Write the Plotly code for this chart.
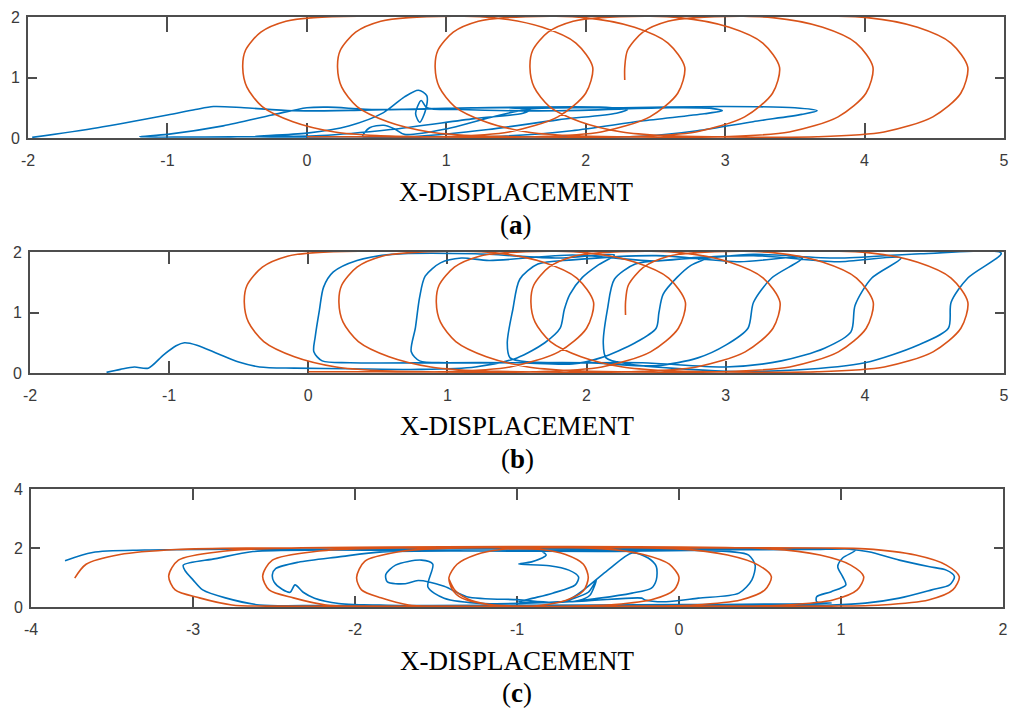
import plotly.graph_objects as go

# ---------------- data ----------------
# reference trajectory used in panels (a) and (b)
REF_AB_X = [2.28, 2.28, 2.30, 2.41, 2.59, 2.79,
            4.02, 4.38, 4.62, 4.74, 4.69, 4.49, 4.14, 3.66,
            2.91, 2.56, 2.26, 1.96, 1.74, 1.63, 1.60, 1.62, 1.73, 1.91, 2.11,
            3.34, 3.70, 3.94, 4.06, 4.01, 3.81, 3.46, 2.98,
            2.23, 1.88, 1.58, 1.28, 1.06, 0.95, 0.92, 0.94, 1.05, 1.23, 1.43,
            2.67, 3.03, 3.27, 3.39, 3.34, 3.14, 2.79, 2.31,
            1.53, 1.18, 0.88, 0.58, 0.36, 0.25, 0.22, 0.24, 0.35, 0.53, 0.73,
            1.99, 2.35, 2.59, 2.71, 2.66, 2.46, 2.11, 1.63,
            0.85, 0.50, 0.20, -0.10, -0.32, -0.43, -0.46, -0.44, -0.33, -0.15, 0.05,
            1.33, 1.69, 1.93, 2.05, 2.00, 1.80, 1.45, 0.97,
            0.50, 0.00]
REF_AB_Y = [0.96, 1.17, 1.45, 1.75, 1.93, 1.99,
            1.99, 1.83, 1.57, 1.17, 0.74, 0.35, 0.10, 0.02,
            0.02, 0.04, 0.10, 0.27, 0.52, 0.84, 1.17, 1.45, 1.75, 1.93, 1.99,
            1.99, 1.83, 1.57, 1.17, 0.74, 0.35, 0.10, 0.02,
            0.02, 0.04, 0.10, 0.27, 0.52, 0.84, 1.17, 1.45, 1.75, 1.93, 1.99,
            1.99, 1.83, 1.57, 1.17, 0.74, 0.35, 0.10, 0.02,
            0.02, 0.04, 0.10, 0.27, 0.52, 0.84, 1.17, 1.45, 1.75, 1.93, 1.99,
            1.99, 1.83, 1.57, 1.17, 0.74, 0.35, 0.10, 0.02,
            0.02, 0.04, 0.10, 0.27, 0.52, 0.84, 1.17, 1.45, 1.75, 1.93, 1.99,
            1.99, 1.83, 1.57, 1.17, 0.74, 0.35, 0.10, 0.02,
            0.02, 0.02]

# actual trajectory, panel (a)
ACT_A_X = [-1.97, -1.5, -1.0, -0.8, -0.67, -0.45, -0.1, 0.4, 1.0, 1.45, 1.6, 1.55, 1.2, 0.6, 0.1, -0.5, -1.2,
           -1.0, -0.6, -0.25, 0.0, 0.15, 0.5, 1.2, 2.1, 2.3, 2.22, 1.8, 1.3, 0.8, 0.2, -0.4,
           0.0, 0.3, 0.55, 0.7, 0.8, 0.86, 0.85, 0.81, 0.78, 0.82, 0.86, 1.1, 1.8, 2.6, 2.9, 2.98, 2.85,
           2.4, 1.9, 1.4, 0.9, 0.4,
           0.45, 0.55, 0.63, 0.7, 1.0, 1.3, 1.6, 2.2, 3.0, 3.5, 3.66, 3.55, 3.2, 2.8, 2.4, 1.8, 1.2]
ACT_A_Y = [0.01, 0.17, 0.38, 0.47, 0.52, 0.5, 0.45, 0.46, 0.49, 0.5, 0.47, 0.41, 0.32, 0.14, 0.04, 0.02, 0.02,
           0.06, 0.2, 0.38, 0.5, 0.51, 0.47, 0.5, 0.51, 0.47, 0.41, 0.3, 0.14, 0.03, 0.02, 0.02,
           0.08, 0.2, 0.42, 0.68, 0.79, 0.7, 0.45, 0.26, 0.4, 0.62, 0.5, 0.47, 0.45, 0.5, 0.49, 0.45, 0.4,
           0.28, 0.12, 0.03, 0.02, 0.02,
           0.17, 0.21, 0.15, 0.06, 0.15, 0.33, 0.48, 0.5, 0.52, 0.5, 0.45, 0.39, 0.27, 0.12, 0.03, 0.02, 0.02]

# actual trajectory, panel (b)
ACT_B_X = [-1.45, -1.35, -1.25, -1.15, -1.04, -0.95, -0.89, -0.8, -0.65, -0.5, -0.35, -0.1, 0.3, 0.8, 1.2,
           1.5, 1.7, 1.81, 1.84, 1.88, 1.97, 2.08, 2.2, 1.8, 1.2, 0.6, 0.35, 0.18, 0.11, 0.08, 0.05, 0.04,
           0.1, 0.3, 1.0, 1.5, 1.9, 2.1, 2.35, 2.5, 2.52, 2.55, 2.65, 2.75, 2.88,
           2.5, 1.9, 1.3, 1.1, 0.95, 0.84, 0.8, 0.77, 0.74, 0.8, 1.0, 2.0, 2.5, 2.8, 3.0, 3.16, 3.2, 3.33, 3.55,
           3.1, 2.5, 1.9, 1.65, 1.52, 1.47, 1.43, 1.45, 1.6, 2.4, 3.0, 3.4, 3.71, 3.9, 3.93, 4.05, 4.26,
           3.8, 3.2, 2.6, 2.35, 2.2, 2.15, 2.12, 2.14, 2.3, 3.0, 3.5, 4.0, 4.38, 4.6, 4.62, 4.74, 4.98,
           4.4, 3.8, 3.2, 2.8]
ACT_B_Y = [0.01, 0.06, 0.1, 0.08, 0.3, 0.45, 0.5, 0.46, 0.32, 0.18, 0.1, 0.08, 0.07, 0.06, 0.1,
           0.25, 0.5, 0.74, 1.05, 1.3, 1.58, 1.78, 1.95, 1.9, 1.97, 1.96, 1.86, 1.67, 1.42, 1.04, 0.6, 0.35,
           0.2, 0.17, 0.17, 0.17, 0.15, 0.25, 0.5, 0.74, 1.0, 1.3, 1.58, 1.78, 1.92,
           1.85, 1.95, 1.86, 1.9, 1.82, 1.6, 1.25, 0.75, 0.35, 0.2, 0.17, 0.17, 0.12, 0.25, 0.46, 0.74, 1.17, 1.57, 1.9,
           1.84, 1.94, 1.87, 1.8, 1.55, 1.05, 0.5, 0.25, 0.18, 0.17, 0.1, 0.2, 0.41, 0.68, 1.12, 1.57, 1.9,
           1.84, 1.94, 1.87, 1.8, 1.55, 1.05, 0.5, 0.25, 0.15, 0.03, 0.05, 0.17, 0.46, 0.74, 1.17, 1.57, 1.98,
           1.97, 1.9, 1.96, 1.88]

# reference trajectory, panel (c)
REF_C_X = [-3.73, -3.66, -3.45, -3.10, -2.60,
           0.90, 1.15, 1.46, 1.65, 1.73, 1.69, 1.54, 1.25, 0.94,
           -2.55, -2.76, -2.96, -3.11, -3.15, -3.09, -2.80, -2.55,
           0.56, 0.87, 1.06, 1.14, 1.10, 0.95, 0.66, 0.35,
           -1.97, -2.18, -2.38, -2.53, -2.57, -2.51, -2.22, -1.97,
           -0.01, 0.30, 0.49, 0.57, 0.53, 0.38, 0.09, -0.22,
           -1.50, -1.67, -1.84, -1.96, -1.99, -1.94, -1.72, -1.50,
           -0.48, -0.22, -0.06, 0.00, -0.03, -0.16, -0.40, -0.65,
           -1.00, -1.20, -1.34, -1.40, -1.42, -1.37, -1.25, -1.10, -0.99, -0.85, -0.70, -0.59, -0.56,
           -0.59, -0.70, -0.85, -0.99, -1.13, -1.28, -1.38, -1.42]
REF_C_Y = [0.98, 1.45, 1.78, 1.95, 2.00,
           2.00, 1.97, 1.76, 1.42, 1.03, 0.58, 0.24, 0.07, 0.03,
           0.03, 0.07, 0.31, 0.58, 1.05, 1.59, 1.90, 1.98,
           1.97, 1.76, 1.42, 1.03, 0.58, 0.24, 0.07, 0.03,
           0.03, 0.07, 0.31, 0.58, 1.05, 1.59, 1.90, 1.98,
           1.97, 1.76, 1.42, 1.03, 0.58, 0.24, 0.07, 0.03,
           0.03, 0.07, 0.31, 0.58, 1.00, 1.55, 1.88, 1.98,
           1.98, 1.78, 1.45, 1.00, 0.58, 0.26, 0.08, 0.03,
           0.03, 0.10, 0.30, 0.60, 1.00, 1.45, 1.78, 1.95, 1.98, 1.95, 1.78, 1.45, 1.00,
           0.55, 0.22, 0.06, 0.03, 0.06, 0.22, 0.55, 0.95]

# actual trajectory, panel (c)
ACT_C_X = [-3.79, -3.62, -3.3, -2.6, -1.5, -0.3, 0.6, 1.05, 1.17, 1.36, 1.54, 1.65, 1.70, 1.67, 1.56, 1.36,
           1.15, 0.94, 0.5, -0.5, -1.5, -2.2, -2.59, -2.8, -2.94, -3.0, -3.05, -3.06, -2.86, -2.63,
           -2.2, -1.2, 0.0, 0.8, 1.09, 1.01, 0.98, 1.01, 1.03, 0.94, 0.85, 0.85, 0.94, 0.6, 0.0, -1.0, -1.8,
           -2.1, -2.25, -2.32, -2.37, -2.40, -2.45, -2.50, -2.51, -2.49, -2.35, -2.1, -1.83,
           -1.2, -0.5, 0.1, 0.33, 0.43, 0.47, 0.45, 0.37, 0.12, -0.08, -0.21, -0.23,
           -0.6, -1.2, -1.45, -1.55, -1.52, -1.59, -1.75, -1.81, -1.80, -1.69, -1.61, -1.45,
           -1.31, -1.0, -0.7, -0.45, -0.29, -0.19, -0.14, -0.14, -0.17, -0.29, -0.49, -0.7,
           -0.56, -0.51, -0.55, -0.62, -0.78, -0.99, -0.9, -0.78, -0.64, -0.62, -0.68, -0.8, -0.99,
           -0.91, -0.82, -0.85]
ACT_C_Y = [1.57, 1.85, 1.93, 1.96, 1.97, 1.97, 1.98, 1.96, 1.87, 1.59, 1.37, 1.25, 1.03, 0.75, 0.58, 0.30,
           0.13, 0.07, 0.05, 0.05, 0.04, 0.05, 0.07, 0.31, 0.58, 0.92, 1.24, 1.42, 1.64, 1.88,
           1.93, 1.9, 1.93, 1.95, 1.93, 1.66, 1.37, 1.03, 0.75, 0.52, 0.35, 0.18, 0.13, 0.1, 0.08, 0.06, 0.06,
           0.12, 0.3, 0.5, 0.75, 0.5, 0.6, 0.85, 1.1, 1.3, 1.52, 1.7, 1.87,
           1.9, 1.88, 1.92, 1.87, 1.76, 1.42, 0.92, 0.47, 0.30, 0.18, 0.24, 0.30,
           0.2, 0.12, 0.3, 0.68, 1.45, 1.59, 1.42, 1.1, 0.85, 0.79, 0.9, 0.7,
           0.35, 0.25, 0.2, 1.2, 1.83, 1.66, 1.37, 0.92, 0.64, 0.47, 0.30, 0.18,
           0.5, 0.92, 0.4, 0.22, 0.15, 0.18, 0.3, 0.47, 0.75, 1.02, 1.25, 1.4, 1.46,
           1.53, 1.76, 1.9]

XT_AB = [-2, -1, 0, 1, 2, 3, 4, 5]
XT_C = [-4, -3, -2, -1, 0, 1, 2]

PANELS = [
    dict(ref=(REF_AB_X, REF_AB_Y), act=(ACT_A_X, ACT_A_Y), xr=[-2, 5], yr=[0, 2],
         xt=XT_AB, yt=[0, 1, 2], label="a"),
    dict(ref=(REF_AB_X, REF_AB_Y), act=(ACT_B_X, ACT_B_Y), xr=[-2, 5], yr=[0, 2],
         xt=XT_AB, yt=[0, 1, 2], label="b"),
    dict(ref=(REF_C_X, REF_C_Y), act=(ACT_C_X, ACT_C_Y), xr=[-4, 2], yr=[0, 4],
         xt=XT_C, yt=[0, 2, 4], label="c"),
]

X_TITLE = "X-DISPLACEMENT"

# ---------------- layout geometry (page pixels) ----------------
# the page body has an 8 px margin, so the figure is placed 8 px in from the top-left
OFF = 8
W, H = 1032 - OFF, 711 - OFF
BOXES = [  # left, right, top, bottom (page pixels)
    (28, 1004, 17, 138),
    (30, 1004, 252, 373),
    (31, 1003, 489, 607),
]
TITLE_Y = [192, 426, 661]
LETTER_Y = [225, 459, 693]
XTICKLEN = [15, 12, 11]

BLUE = "#0072BD"
ORANGE = "#D95319"
FRAME = "#4d4d4d"
TICK_FONT = dict(family="Liberation Sans Narrow, Arial Narrow, Liberation Sans, Arial, sans-serif",
                 size=16, color="#3a3a3a")
SERIF = "Liberation Serif, Times New Roman, serif"


def px(v):
    return (v - OFF) / W


def py(v):
    return 1 - (v - OFF) / H


fig = go.Figure()
layout = dict(width=W, height=H, margin=dict(l=0, r=0, t=0, b=0, pad=0, autoexpand=False),
              paper_bgcolor="white", plot_bgcolor="white", showlegend=False,
              annotations=[])

for i, p in enumerate(PANELS):
    n = "" if i == 0 else str(i + 1)
    xa, ya = "x" + n, "y" + n
    # blue first, orange above it
    fig.add_trace(go.Scatter(x=p["act"][0], y=p["act"][1], mode="lines",
                             line=dict(color=BLUE, width=1.6, shape="spline", smoothing=0.8),
                             xaxis=xa, yaxis=ya, hoverinfo="skip"))
    fig.add_trace(go.Scatter(x=p["ref"][0], y=p["ref"][1], mode="lines",
                             line=dict(color=ORANGE, width=1.6, shape="spline", smoothing=0.8),
                             xaxis=xa, yaxis=ya, hoverinfo="skip"))
    l, r, t, b = BOXES[i]
    layout["xaxis" + n] = dict(domain=[px(l), px(r)], range=p["xr"], anchor=ya,
                               tickvals=p["xt"], ticktext=[str(v) for v in p["xt"]],
                               ticks="inside", ticklen=XTICKLEN[i], tickwidth=1.5,
                               tickcolor=FRAME, showline=True, linecolor=FRAME, linewidth=1.8,
                               mirror="ticks", showgrid=False, zeroline=False, automargin=False,
                               layer="below traces",
                               tickfont=TICK_FONT, ticklabelstandoff=7, fixedrange=True)
    layout["yaxis" + n] = dict(domain=[py(b), py(t)], range=p["yr"], anchor=xa,
                               tickvals=p["yt"], ticktext=[str(v) for v in p["yt"]],
                               ticks="inside", ticklen=9, tickwidth=1.5,
                               tickcolor=FRAME, showline=True, linecolor=FRAME, linewidth=1.8,
                               mirror="ticks", showgrid=False, zeroline=False, automargin=False,
                               layer="below traces",
                               tickfont=TICK_FONT, ticklabelstandoff=3, fixedrange=True)
    cx = px((l + r) / 2)
    layout["annotations"].append(dict(text=X_TITLE, x=cx, y=py(TITLE_Y[i]), xref="paper", yref="paper",
                                      showarrow=False, xanchor="center", yanchor="middle",
                                      font=dict(family=SERIF, size=27, color="black")))
    layout["annotations"].append(dict(text="(<b>%s</b>)" % p["label"], x=cx, y=py(LETTER_Y[i]),
                                      xref="paper", yref="paper", showarrow=False,
                                      xanchor="center", yanchor="middle",
                                      font=dict(family=SERIF, size=27, color="black")))

fig.update_layout(**layout)
fig.write_html("out.html")
